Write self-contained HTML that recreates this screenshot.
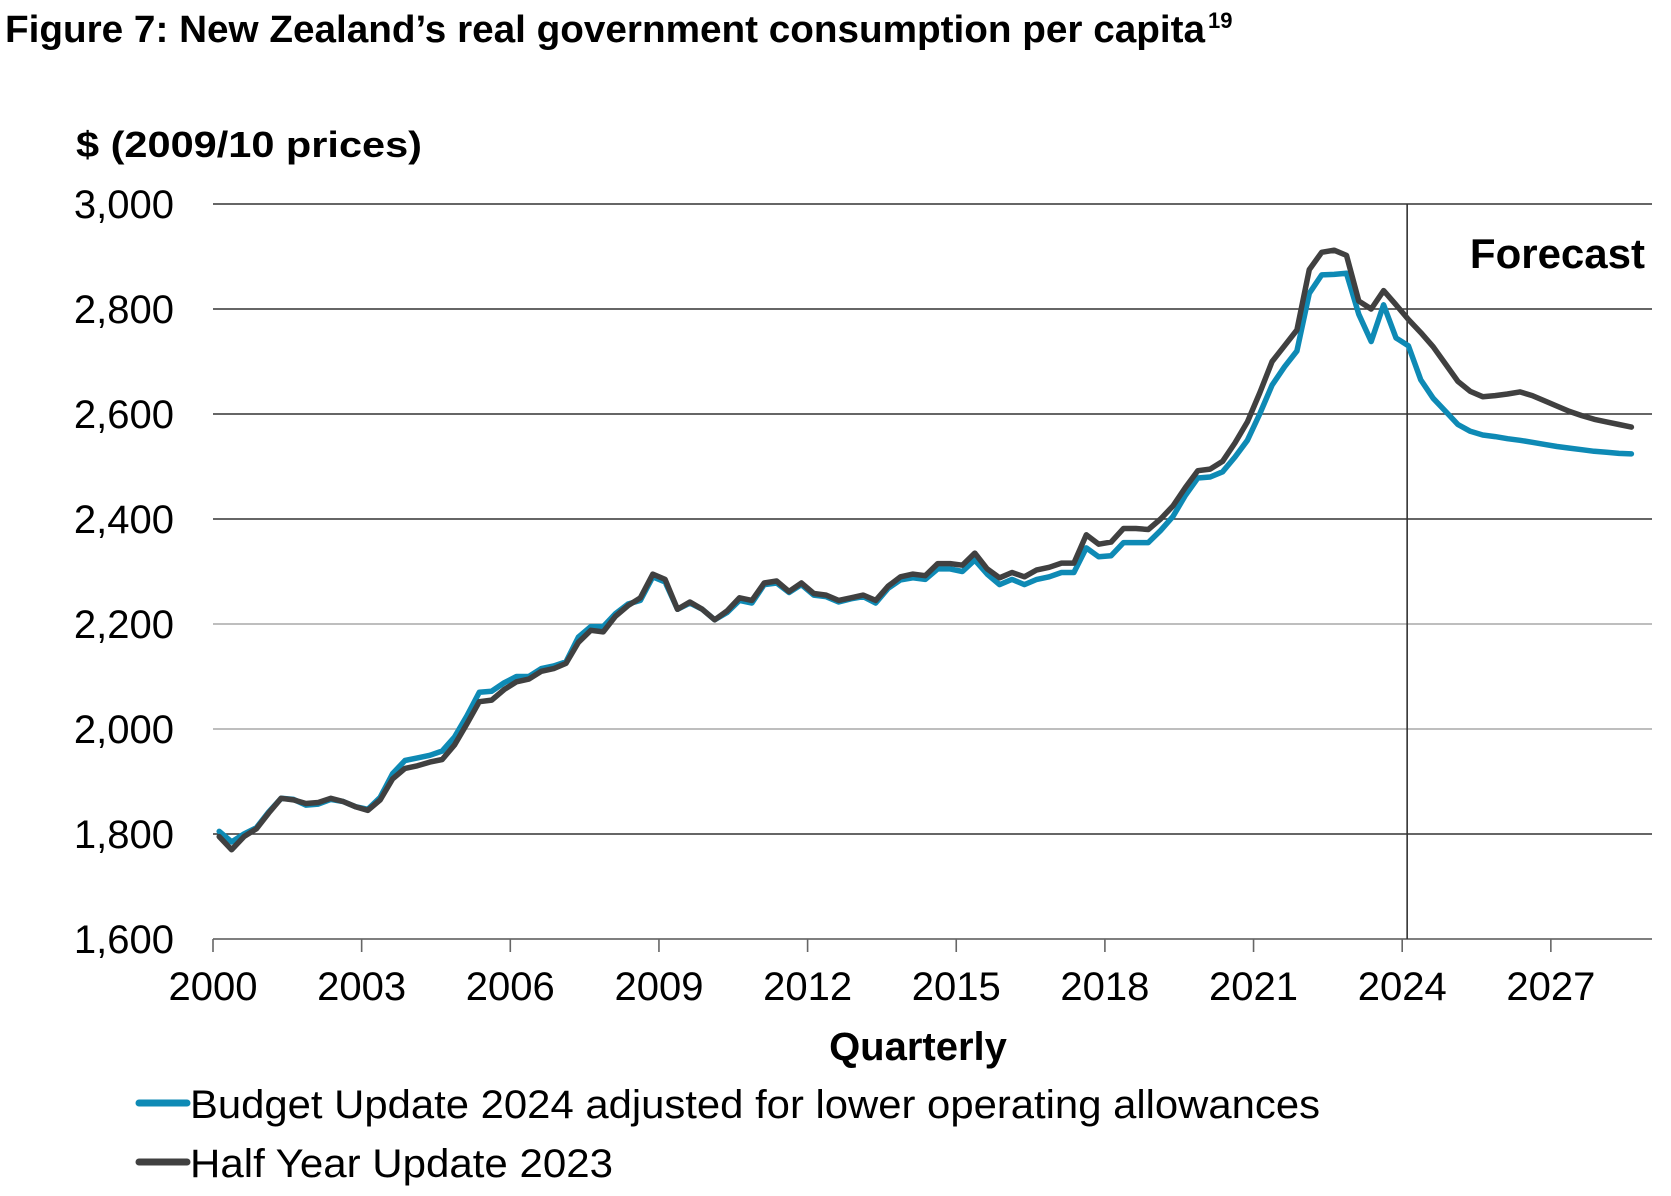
<!DOCTYPE html>
<html><head><meta charset="utf-8"><style>
html,body{margin:0;padding:0;background:#fff;}
svg{display:block;font-family:"Liberation Sans",Arial,sans-serif;}
</style></head><body>
<svg id="chart" width="1671" height="1196" viewBox="0 0 1671 1196" xmlns="http://www.w3.org/2000/svg">
<text x="5" y="42" font-size="38" font-weight="bold" textLength="1200" lengthAdjust="spacingAndGlyphs">Figure 7: New Zealand’s real government consumption per capita</text>
<text x="1208" y="28" font-size="22" font-weight="bold">19</text>
<text x="76" y="157" font-size="36" font-weight="bold" textLength="346" lengthAdjust="spacingAndGlyphs">$ (2009/10 prices)</text>
<g id="grid"></g>
<g id="yticks"></g>
<g id="xticks"></g>
<g id="series"></g>
<text x="1645" y="268" font-size="42" font-weight="bold" text-anchor="end">Forecast</text>
<text x="918" y="1060" font-size="40" font-weight="bold" text-anchor="middle">Quarterly</text>
<g>
<g>
<line x1="139" y1="1103" x2="187" y2="1103" stroke="#0e8ab5" stroke-width="7" stroke-linecap="round"/>
<text x="190" y="1118" font-size="40" textLength="1130" lengthAdjust="spacingAndGlyphs">Budget Update 2024 adjusted for lower operating allowances</text>
</g>
<g>
<line x1="139" y1="1162" x2="187" y2="1162" stroke="#404040" stroke-width="7" stroke-linecap="round"/>
<text x="190" y="1177" font-size="40" textLength="423" lengthAdjust="spacingAndGlyphs">Half Year Update 2023</text>
</g>
</g>
</svg>
<script>
const startYear = 2000;
const yTicks = [1600,1800,2000,2200,2400,2600,2800,3000];
const yTickLabels = ["1,600","1,800","2,000","2,200","2,400","2,600","2,800","3,000"];
const xTicks = [2000,2003,2006,2009,2012,2015,2018,2021,2024,2027];
const forecastYear = 2024.1;
const halfYear2023 = [
1795,1770,1795,1810, 1840,1868,1865,1858, 1860,1868,1862,1852, 1845,1865,1905,1925,
1930,1937,1942,1970, 2010,2052,2055,2075, 2090,2095,2110,2115, 2125,2165,2188,2185,
2215,2235,2250,2295, 2285,2228,2242,2228, 2208,2225,2250,2245, 2278,2282,2262,2278,
2258,2255,2245,2250, 2255,2245,2272,2290, 2295,2292,2315,2315, 2312,2335,2305,2288,
2298,2290,2303,2308, 2316,2316,2370,2352, 2356,2382,2382,2380, 2400,2425,2460,2492,
2495,2510,2545,2585, 2640,2700,2730,2760, 2875,2908,2912,2902, 2815,2800,2835,2808,
2780,2755,2728,2695, 2662,2643,2633,2635, 2638,2642,2635,2625, 2615,2605,2597,2590,
2585,2580,2575];
const budget2024 = [
1805,1785,1800,1812, 1842,1868,1866,1855, 1857,1866,1862,1852, 1847,1870,1915,1940,
1945,1950,1958,1985, 2025,2070,2072,2088, 2100,2100,2115,2120, 2128,2175,2195,2195,
2220,2238,2245,2290, 2280,2228,2240,2228, 2208,2222,2245,2240, 2275,2278,2260,2275,
2255,2252,2242,2248, 2252,2240,2268,2284, 2288,2285,2305,2305, 2300,2322,2295,2275,
2285,2275,2285,2290, 2298,2298,2345,2328, 2330,2355,2355,2355, 2378,2405,2445,2478,
2480,2490,2518,2550, 2600,2655,2690,2720, 2830,2865,2866,2868, 2790,2738,2808,2745,
2730,2665,2630,2605, 2580,2567,2560,2557, 2553,2550,2546,2542, 2538,2535,2532,2529,
2527,2525,2524];

const NS = "http://www.w3.org/2000/svg";
const X0 = 213, PX_PER_YEAR = 49.55, Y0 = 939, PX_PER_UNIT = 0.525, XR = 1652;
function xScale(t){ return X0 + (t - startYear) * PX_PER_YEAR; }
function yScale(v){ return Y0 - (v - 1600) * PX_PER_UNIT; }
function mk(tag, attrs, parent){ const e = document.createElementNS(NS, tag); for (const k in attrs) e.setAttribute(k, attrs[k]); parent.appendChild(e); return e; }

const grid = document.getElementById('grid');
yTicks.forEach((v,i)=>{
  const col = (v===2000||v===2200) ? "#a8a8a8" : (v===1600 ? "#555" : "#333");
  const l = mk('line',{x1:X0,x2:XR,y1:yScale(v),y2:yScale(v),stroke:col,'stroke-width':1.6},grid);
  
  
});
const fl = mk('line',{x1:xScale(forecastYear),x2:xScale(forecastYear),y1:yScale(3000),y2:Y0,stroke:"#333",'stroke-width':1.6},grid);



const yt = document.getElementById('yticks');
yTicks.forEach((v,i)=>{
  const t = mk('text',{x:174,y:yScale(v)+14,'font-size':40,'text-anchor':'end'},yt);
  t.textContent = yTickLabels[i];
  
  
});
const xt = document.getElementById('xticks');
xTicks.forEach(yr=>{
  const x = xScale(yr);
  const tk = mk('line',{x1:x,x2:x,y1:Y0,y2:Y0+13,stroke:"#666",'stroke-width':1.6},xt);
  
  
  const t = mk('text',{x:x,y:1000,'font-size':40,'text-anchor':'middle'},xt);
  t.textContent = String(yr);
  
  
});

const sg = document.getElementById('series');
function draw(arr, color, name){
  const pts = arr.map((v,i)=> xScale(startYear + i/4 + 0.125).toFixed(1)+','+yScale(v).toFixed(1)).join(' ');
  const p = mk('polyline',{points:pts,fill:'none',stroke:color,'stroke-width':5.5,'stroke-linejoin':'round','stroke-linecap':'round'},sg);
  
  
}
draw(budget2024,'#0e8ab5','line-budget-update-2024');
draw(halfYear2023,'#404040','line-half-year-update-2023');
</script>
</body></html>
